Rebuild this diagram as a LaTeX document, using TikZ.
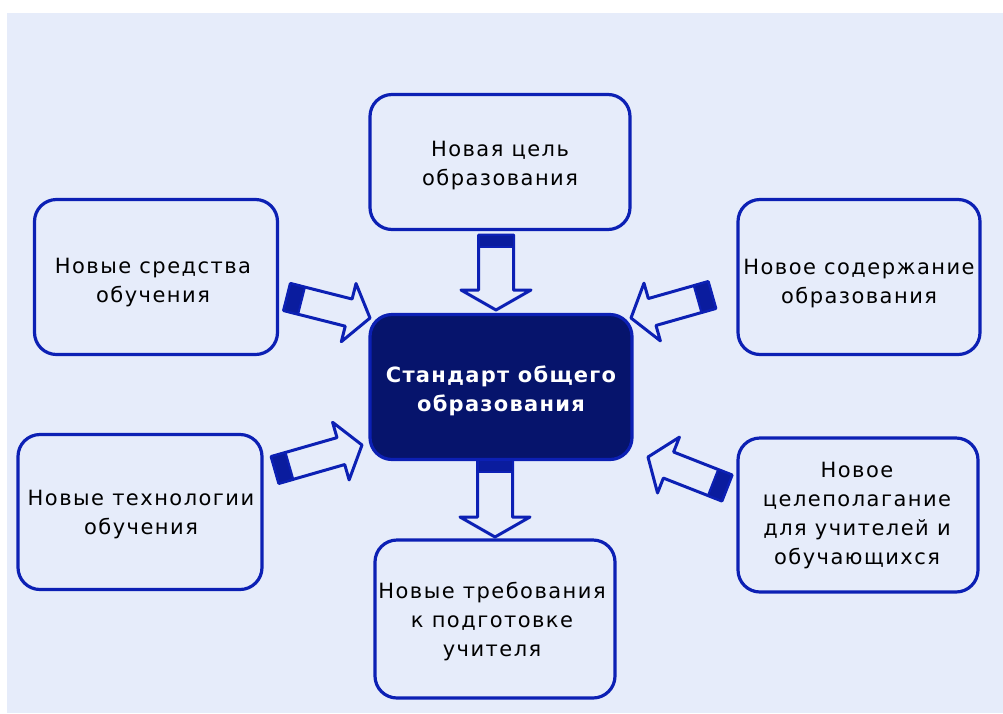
\documentclass[tikz,border=0pt]{standalone}
\usepackage{fontspec}
\setmainfont{DejaVu Sans}
\newfontfamily\boxfont[LetterSpace=7]{DejaVu Sans}
\newfontfamily\centerfont[LetterSpace=6]{DejaVu Sans}
\usetikzlibrary{calc}
\definecolor{bgc}{RGB}{230,236,250}
\definecolor{bord}{RGB}{12,32,180}
\definecolor{navy}{RGB}{6,20,108}
\tikzset{
  box/.style={draw=bord, line width=3.2pt, rounded corners=22pt, inner sep=0pt},
  centerbox/.style={box, fill=navy},
  label/.style={align=center, text=black, font=\boxfont\fontsize{21}{29}\selectfont},
  centerlabel/.style={align=center, text=white, font=\centerfont\bfseries\fontsize{21}{29}\selectfont},
  arrowbody/.style={draw=bord, fill=bgc, line width=3pt, line join=round},
  arrowtail/.style={draw=bord, fill=bord!70!navy, line width=2pt, line join=round},
}
\newcommand\blockarr[6]{%
  \coordinate (bah) at ($(#2)!#5!(#1)$);
  \coordinate (bat) at ($(#1)!#6!(#2)$);
  \path[arrowbody] ($(#1)!#3!90:(#2)$) -- ($(bah)!#3!90:(#2)$) -- ($(bah)!#4!90:(#2)$) -- (#2)
     -- ($(bah)!#4!-90:(#2)$) -- ($(bah)!#3!-90:(#2)$) -- ($(#1)!#3!-90:(#2)$) -- cycle;
  \path[arrowtail] ($(#1)!#3!90:(#2)$) -- ($(bat)!#3!90:(#2)$) -- ($(bat)!#3!-90:(#2)$) -- ($(#1)!#3!-90:(#2)$) -- cycle;
}
\begin{document}
\begin{tikzpicture}[x=1pt, y=-1pt]
\useasboundingbox (0,0) rectangle (1003,713);
\fill[white] (0,0) rectangle (1003,713);
\fill[bgc] (7,13) rectangle (1003,713);

% boxes
\node[box, minimum width=260pt, minimum height=135pt] (goal) at (500,162) {};
\node[box, minimum width=243pt, minimum height=155pt] (means) at (156,277) {};
\node[box, minimum width=242pt, minimum height=155pt] (content) at (859,277) {};
\node[box, minimum width=244pt, minimum height=155pt] (tech) at (140,512) {};
\node[box, minimum width=240pt, minimum height=154pt] (aims) at (858,515) {};
\node[box, minimum width=240pt, minimum height=158pt] (req) at (495,619) {};
\node[centerbox, minimum width=262pt, minimum height=145pt] (std) at (501,387) {};

% labels
\node[label] (tgoal) at (500,166) {Новая цель\\образования};
\node[label] (tmeans) at (153,283) {Новые средства\\обучения};
\node[label] (tcontent) at (859,284) {Новое содержание\\образования};
\node[label] (ttech) at (141,515) {Новые технологии\\обучения};
\node[label] (taims) at (857,516) {Новое\\целеполагание\\для учителей и\\обучающихся};
\node[label] (treq) at (492,622) {Новые требования\\к подготовке\\учителя};
\node[centerlabel] (tstd) at (501,391) {Стандарт общего\\образования};

% arrow anchors
\coordinate (a1t) at (496,235); \coordinate (a1h) at (496,310);
\coordinate (a2t) at (495,460); \coordinate (a2h) at (495,537);
\coordinate (a3t) at (287,297); \coordinate (a3h) at (370,318);
\coordinate (a4t) at (712,295); \coordinate (a4h) at (631,318);
\coordinate (a5t) at (275,470); \coordinate (a5h) at (362,445);
\coordinate (a6t) at (727,488); \coordinate (a6h) at (648,457);

\blockarr{a1t}{a1h}{17.5pt}{35pt}{20pt}{12pt}
\blockarr{a2t}{a2h}{17.5pt}{35pt}{20pt}{12pt}
\blockarr{a3t}{a3h}{14pt}{30pt}{22pt}{15pt}
\blockarr{a4t}{a4h}{14pt}{30pt}{22pt}{15pt}
\blockarr{a5t}{a5h}{14pt}{30pt}{22pt}{15pt}
\blockarr{a6t}{a6h}{14pt}{30pt}{22pt}{15pt}
\end{tikzpicture}
\end{document}
